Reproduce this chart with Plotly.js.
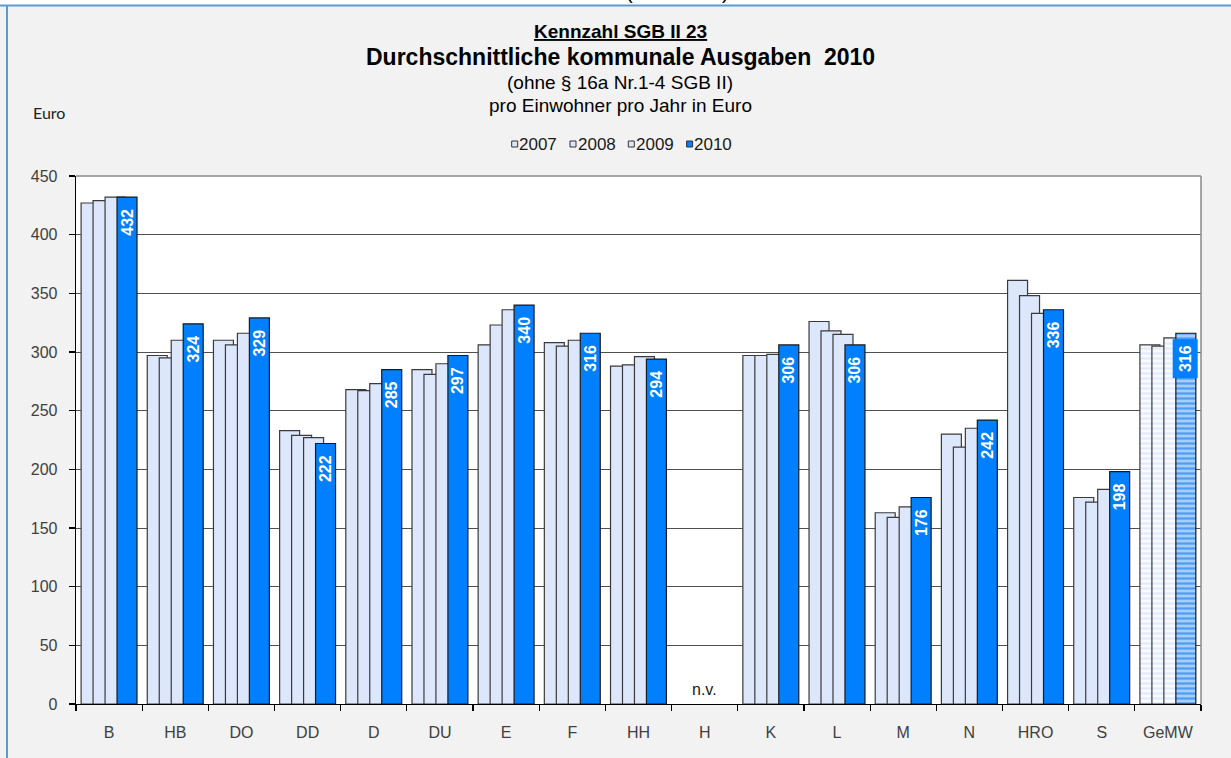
<!DOCTYPE html>
<html><head><meta charset="utf-8">
<script src="https://cdn.plot.ly/plotly-3.0.1.min.js"></script>
<style>html,body{margin:0;padding:0;background:#f2f2f2;} #chart{width:1231px;height:758px;}</style>
</head><body><div id="chart"></div>
<script>
// ---- data ----
const categories = ['B','HB','DO','DD','D','DU','E','F','HH','H','K','L','M','N','HRO','S','GeMW'];
const seriesNames = ['2007','2008','2009','2010'];
const v2007 = [427, 297, 310, 233, 268, 285, 306, 308, 288, null, 297, 326, 163, 230, 361, 176, 306];
const v2008 = [429, 295, 306, 229, 267, 281, 323, 305, 289, null, 297, 318, 159, 219, 348, 172, 305];
const v2009 = [432, 310, 316, 227, 273, 290, 336, 310, 296, null, 298, 315, 168, 235, 333, 183, 312];
const v2010 = [432, 324, 329, 222, 285, 297, 340, 316, 294, null, 306, 306, 176, 242, 336, 198, 316];
const yTicks = [0, 50, 100, 150, 200, 250, 300, 350, 400, 450];
const avgCategory = 'GeMW';
const missingLabel = 'n.v.';
const titleLines = ['Kennzahl SGB II 23', 'Durchschnittliche kommunale Ausgaben\u00a0 2010', '(ohne § 16a Nr.1-4 SGB II)', 'pro Einwohner pro Jahr in Euro'];
const yUnit = 'Euro';

// ---- layout helpers ----
const W = 1231, H = 758, ML = 76, MR = 30, MT = 176, MB = 54;
const PW = W - ML - MR, PH = H - MT - MB;
const px = x => (x - ML) / PW;
const py = y => (H - MB - y) / PH;
const FONT = "'Liberation Sans', Arial, Helvetica, sans-serif";

const allSeries = [v2007, v2008, v2009, v2010];
const lightFill = '#dde7fb', darkFill = '#0080ff';
const gemwBg = ['#f8fafe', '#f8fafe', '#f8fafe', '#a6cefa'];
const gemwFg = ['#e2eafb', '#e2eafb', '#e2eafb', '#4f9cf0'];

const traces = allSeries.map((vals, i) => {
  const isLast = i === 3;
  const base = isLast ? darkFill : lightFill;
  return {
    type: 'bar',
    name: seriesNames[i],
    x: categories,
    y: vals,
    offset: -0.423 + i * 0.181,
    width: 0.302,
    marker: {
      color: base,
      line: {color: isLast ? '#1a1a1a' : '#3a3a3a', width: 1.2},
      pattern: {
        shape: categories.map(c => c === avgCategory ? '-' : ''),
        bgcolor: categories.map(() => gemwBg[i]),
        fgcolor: gemwFg[i],
        fgopacity: 1,
        size: 5, solidity: 0.45, fillmode: 'overlay'
      }
    },
    text: isLast ? vals.map((v, j) => (v == null || categories[j] === avgCategory) ? '' : String(v) + '\u00a0\u00a0') : undefined,
    textposition: isLast ? 'inside' : 'none',
    insidetextanchor: 'end',
    textangle: -90,
    constraintext: 'none',
    insidetextfont: {family: FONT, size: 16, color: '#ffffff', weight: 'bold'},
    hoverinfo: 'x+y+name',
    cliponaxis: false
  };
});

const annotations = [];
// titles
const titleSpecs = [
  {y: 31.5, size: 19, bold: true, underline: true},
  {y: 57, size: 23, bold: true},
  {y: 82, size: 19},
  {y: 105.5, size: 19}
];
titleLines.forEach((t, k) => {
  const s = titleSpecs[k];
  annotations.push({
    xref: 'paper', yref: 'paper', x: px(620), y: py(s.y), xanchor: 'center', yanchor: 'middle',
    text: s.underline ? '<span style="text-decoration:underline">' + t + '</span>' : t,
    showarrow: false,
    font: {family: FONT, size: s.size, color: '#000', weight: s.bold ? 'bold' : 'normal'}
  });
});
// unit label
annotations.push({
  xref: 'paper', yref: 'paper', x: px(31), y: py(112), xanchor: 'left', yanchor: 'middle',
  text: yUnit, showarrow: false, font: {family: "Lato, 'Liberation Sans', sans-serif", size: 16, color: '#222', weight: 'normal'}
});
// legend (custom, compact)
const shapes = [];
seriesNames.forEach((nm, i) => {
  const sx = 511.7 + i * 58.3;
  shapes.push({type: 'rect', xref: 'paper', yref: 'paper', x0: px(sx), x1: px(sx + 6), y0: py(147), y1: py(141),
    fillcolor: i === 3 ? darkFill : lightFill, line: {color: '#333', width: 1}});
  annotations.push({xref: 'paper', yref: 'paper', x: px(sx + 5.5), y: py(144.5), xanchor: 'left', yanchor: 'middle',
    text: nm, showarrow: false, font: {family: FONT, size: 17, color: '#1a1a1a'}});
});
// missing data marker
categories.forEach((c, j) => {
  if (allSeries.every(s => s[j] == null)) {
    annotations.push({x: c, y: 0, xref: 'x', yref: 'y', yanchor: 'middle', yshift: 15, showarrow: false,
      text: missingLabel, font: {family: FONT, size: 16, color: '#1a1a1a'}});
  }
});
// average label with box
const gi = categories.indexOf(avgCategory);
annotations.push({x: avgCategory, y: v2010[gi], xref: 'x', yref: 'y', xanchor: 'center', yanchor: 'top',
  xshift: 17.5, yshift: -5, textangle: -90, width: 38, height: 24, bgcolor: darkFill, borderpad: 0,
  showarrow: false, text: String(v2010[gi]), font: {family: FONT, size: 16, color: '#fff', weight: 'bold'}});
// cropped parentheses fragment at top
annotations.push({xref: 'paper', yref: 'paper', x: px(629), y: py(-8), xanchor: 'center', yanchor: 'middle', showarrow: false,
  text: '(', font: {family: FONT, size: 20, color: '#000'}});
annotations.push({xref: 'paper', yref: 'paper', x: px(725), y: py(-8), xanchor: 'center', yanchor: 'middle', showarrow: false,
  text: ')', font: {family: FONT, size: 20, color: '#000'}});

// frame decorations
shapes.push({type: 'rect', xref: 'paper', yref: 'paper', x0: px(0), x1: px(W), y0: py(5.5), y1: py(-2), fillcolor: '#ffffff', line: {width: 0}, layer: 'below'});
shapes.push({type: 'line', xref: 'paper', yref: 'paper', x0: px(0), x1: px(W), y0: py(5.5), y1: py(5.5), line: {color: '#5b9bd5', width: 2}});
shapes.push({type: 'line', xref: 'paper', yref: 'paper', x0: px(7), x1: px(7), y0: py(5.5), y1: py(H + 2), line: {color: '#5b9bd5', width: 2}});
shapes.push({type: 'line', xref: 'paper', yref: 'paper', x0: 0, x1: 1, y0: 1, y1: 1, line: {color: '#8a8a8a', width: 1.5}, layer: 'above'});
shapes.push({type: 'line', xref: 'paper', yref: 'paper', x0: 1, x1: 1, y0: 0, y1: 1, line: {color: '#8a8a8a', width: 1.5}, layer: 'above'});

const layout = {
  width: W, height: H,
  margin: {l: ML, r: MR, t: MT, b: MB, pad: 0},
  paper_bgcolor: '#f2f2f2', plot_bgcolor: '#ffffff',
  barmode: 'overlay', showlegend: false,
  font: {family: FONT, size: 16, color: '#404040'},
  xaxis: {type: 'category', categoryorder: 'array', categoryarray: categories, range: [-0.5, categories.length - 0.5],
    tickson: 'boundaries', ticks: 'outside', ticklen: 6, tickcolor: '#000', tickwidth: 1.2,
    showline: true, linecolor: '#000', linewidth: 1.3, showgrid: false, zeroline: false,
    tickfont: {family: FONT, size: 16, color: '#404040'}, ticklabelstandoff: 13, fixedrange: true},
  yaxis: {range: [0, 450], tickmode: 'array', tickvals: yTicks, ticktext: yTicks.map(String),
    ticks: 'outside', ticklen: 6, tickcolor: '#000', tickwidth: 1.2,
    showline: true, linecolor: '#000', linewidth: 1.3, showgrid: true, gridcolor: '#505050', gridwidth: 1, zeroline: false,
    tickfont: {family: FONT, size: 16, color: '#404040'}, ticklabelstandoff: 8, fixedrange: true},
  annotations: annotations,
  shapes: shapes
};

Plotly.newPlot('chart', traces, layout, {displayModeBar: false, staticPlot: true});
</script>
</body></html>
